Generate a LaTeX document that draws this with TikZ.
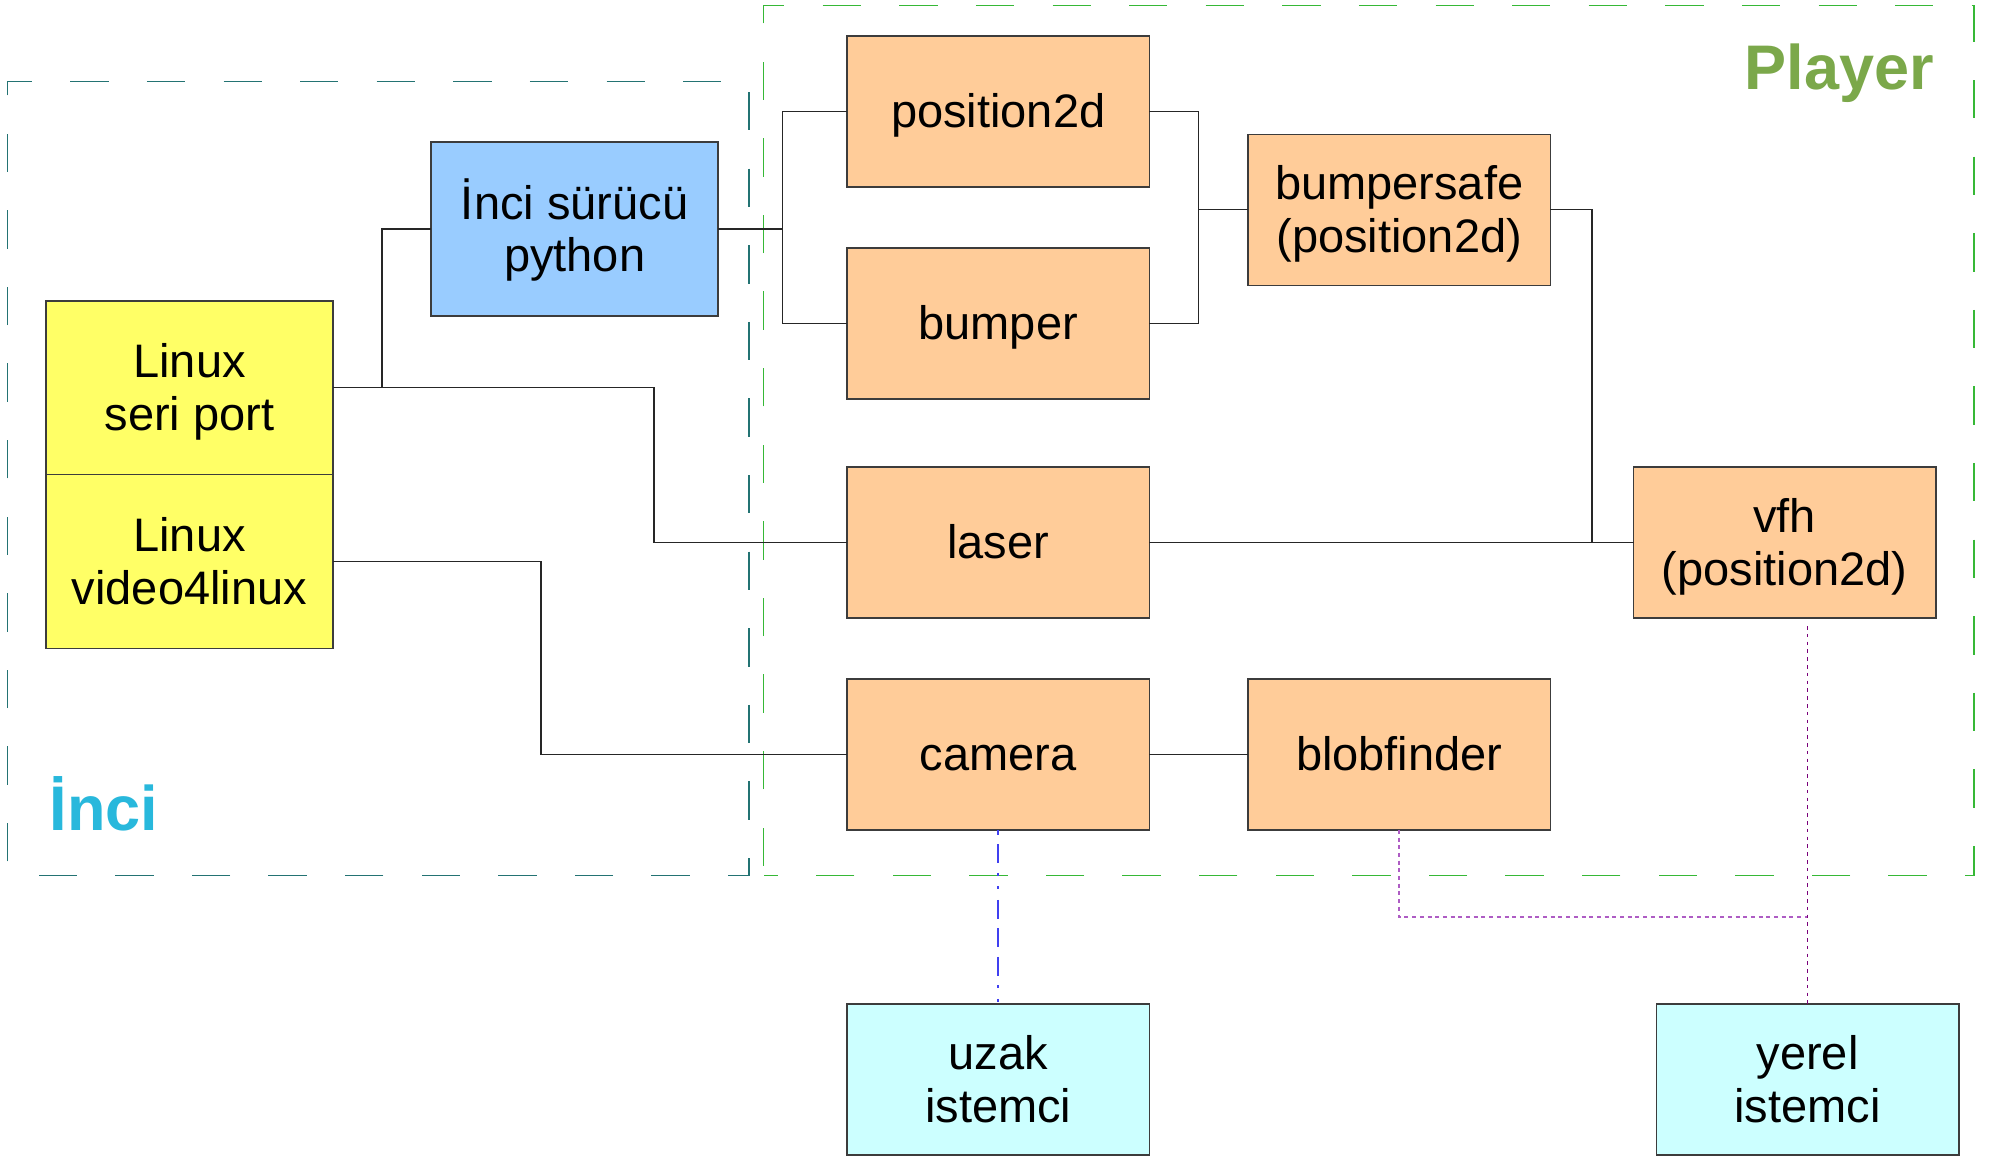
\documentclass[tikz,border=0pt]{standalone}
\usepackage{fontspec}
\setmainfont{Liberation Sans}
\usetikzlibrary{calc}
\definecolor{orangebox}{HTML}{FFCC99}
\definecolor{yellowbox}{HTML}{FFFF66}
\definecolor{bluebox}{HTML}{99CCFF}
\definecolor{cyanbox}{HTML}{CCFFFF}
\definecolor{playergreen}{HTML}{7BA84A}
\definecolor{incicyan}{HTML}{28B8DC}
\definecolor{incidash}{HTML}{237373}
\definecolor{playerdash}{HTML}{36B836}
\definecolor{bordergray}{HTML}{3C3C3C}
\definecolor{dashblue}{HTML}{4040F0}
\definecolor{darkpurple}{HTML}{7A007A}
\definecolor{lightpurple}{HTML}{AE5CC4}
\newcommand{\bxstrut}{\rule[-0.212em]{0pt}{1.117em}}
\begin{document}
\begin{tikzpicture}[x=1pt,y=-1pt,
  box/.style={draw=bordergray, line width=1.6pt, inner sep=0pt, outer sep=0pt, align=center,
              font=\fontsize{47}{52.5}\selectfont},
  obox/.style={box, fill=orangebox, minimum width=302.4pt, minimum height=151pt},
  ybox/.style={box, fill=yellowbox, minimum width=287pt, minimum height=173.8pt},
  cbox/.style={box, fill=cyanbox, minimum width=302.4pt, minimum height=151pt},
  conn/.style={draw=black!85, line width=1.3pt},
  grouplbl/.style={inner sep=0pt, font=\fontsize{63}{70}\selectfont\bfseries},
  bluedd/.style={draw=dashblue, line width=1.6pt,
     dash pattern=on 19pt off 9.5pt on 19pt off 9.5pt on 19pt off 9.5pt on 3pt off 10.5pt on 3pt off 10.5pt,
     dash phase=42.5pt},
  purpleA/.style={draw=darkpurple, line width=1.8pt, dash pattern=on 3.5pt off 4.3pt},
  purpleB/.style={draw=lightpurple, line width=1.8pt, dash pattern=on 4pt off 3.7pt}
]
\useasboundingbox (0,0) rectangle (2001,1157);
\fill[white] (0,0) rectangle (2001,1157);

% group frames
\draw[incidash, line width=1.4pt, dash pattern=on 38.3pt off 38.3pt, dash phase=62.6pt]
  (7.7,875.3) -- (7.7,81.3) -- (749,81.3) -- (749,875.3) -- cycle;
\draw[playerdash, line width=1.4pt, dash pattern=on 38.3pt off 38.3pt, dash phase=67.2pt]
  (763.7,875.3) -- (763.7,5.7) -- (1974,5.7) -- (1974,875.3) -- cycle;

% boxes
\node[box, fill=bluebox, minimum width=287pt, minimum height=174pt] (drv) at (574.6,229)
  {\bxstrut İnci sürücü\\\bxstrut python};
\node[ybox] (seri) at (189.5,387.75) {\bxstrut Linux\\\bxstrut seri port};
\node[ybox] (v4l) at (189.5,561.5) {\bxstrut Linux\\\bxstrut video4linux};
\node[obox] (pos) at (998.2,111.5) {\bxstrut position2d};
\node[obox] (bumper) at (998.2,323.5) {\bxstrut bumper};
\node[obox] (laser) at (998.2,542.5) {\bxstrut laser};
\node[obox] (camera) at (998.2,754.3) {\bxstrut camera};
\node[obox] (bsafe) at (1399.2,209.8) {\bxstrut bumpersafe\\\bxstrut (position2d)};
\node[obox] (blob) at (1399.2,754.3) {\bxstrut blobfinder};
\node[obox] (vfh) at (1784.7,542.5) {\bxstrut vfh\\\bxstrut (position2d)};
\node[cbox] (uzak) at (998.2,1079.5) {\bxstrut uzak\\\bxstrut istemci};
\node[cbox] (yerel) at (1807.5,1079.5) {\bxstrut yerel\\\bxstrut istemci};

% bend columns
\coordinate (bx1) at (382,0);
\coordinate (bx2) at (654,0);
\coordinate (bx3) at (782.5,0);
\coordinate (bx4) at (1198.6,0);
\coordinate (bx5) at (1592,0);
\coordinate (bx6) at (541,0);
\coordinate (vfhb) at (1807.5,626);
\coordinate (pj) at (1807.5,917);

% connectors
\draw[conn] (seri.east) -- (seri.east -| bx1) |- (drv.west);
\draw[conn] (seri.east) -- (seri.east -| bx2) |- (laser.west);
\draw[conn] (drv.east) -- (drv.east -| bx3);
\draw[conn] (pos.west) -- (pos.west -| bx3) |- (bumper.west);
\draw[conn] (pos.east) -- (pos.east -| bx4) |- (bumper.east);
\draw[conn] (bsafe.west) -- (bsafe.west -| bx4);
\draw[conn] (bsafe.east) -- (bsafe.east -| bx5) |- (vfh.west);
\draw[conn] (laser.east) -- (vfh.west);
\draw[conn] (v4l.east) -- (v4l.east -| bx6) |- (camera.west);
\draw[conn] (camera.east) -- (blob.west);
\draw[bluedd] (camera.south) -- (uzak.north);
\draw[purpleB] (blob.south) |- (pj);
\draw[purpleA] (vfhb) -- (yerel.north);

% group labels
\node[grouplbl, text=playergreen, anchor=base east] (playerlbl) at (1934,89) {Player};
\node[grouplbl, text=incicyan, anchor=base west] (incilbl) at (49.3,830) {İnci};
\end{tikzpicture}
\end{document}
